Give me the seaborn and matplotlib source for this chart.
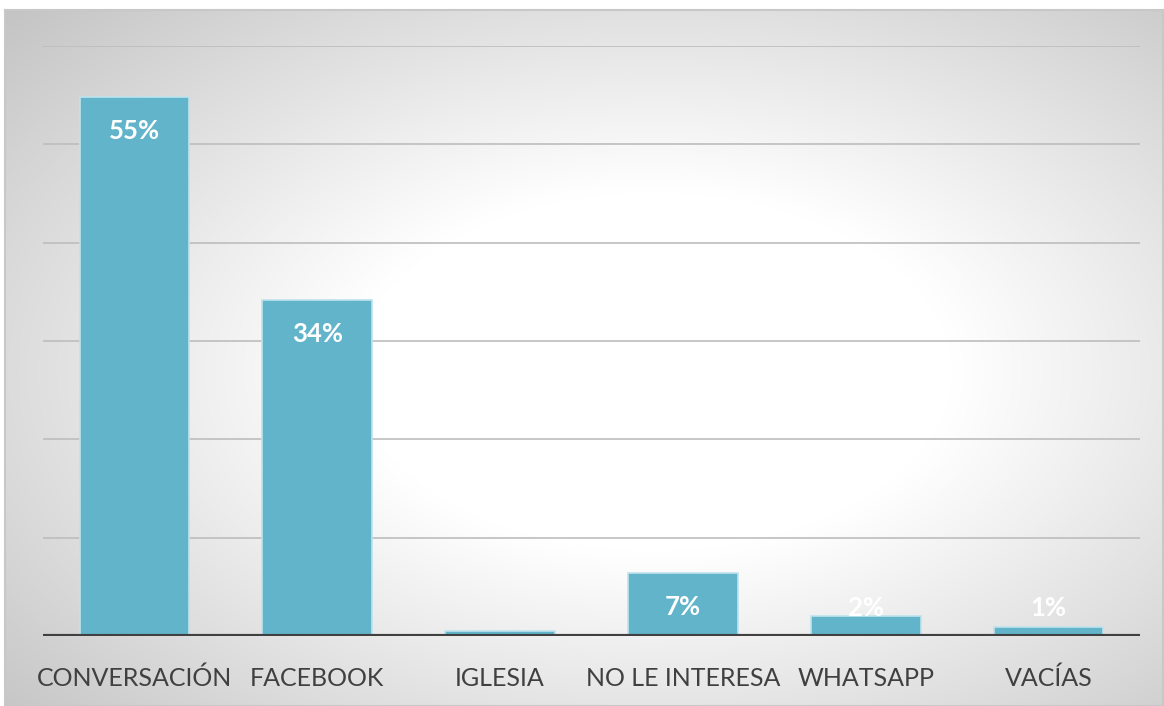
import matplotlib
matplotlib.use('Agg')
import matplotlib.pyplot as plt
import seaborn as sns
import numpy as np
import pandas as pd

sns.set_theme(style="white")
plt.rcParams['font.family'] = ['Lato', 'DejaVu Sans']

# data (percent)
categories = ['CONVERSACIÓN', 'FACEBOOK', 'IGLESIA', 'NO LE INTERESA', 'WHATSAPP', 'VACÍAS']
values = [54.8, 34.2, 0.5, 6.4, 2.0, 0.9]
labels = ['55%', '34%', '', '7%', '2%', '1%']
grid_ticks = [10, 20, 30, 40, 50, 60]

df = pd.DataFrame({'categoria': categories, 'valor': values})

W, H = 1164, 706
fig = plt.figure(figsize=(W / 100, H / 100), dpi=100)

# Excel-like radial gradient background inside a thin frame
left, bottom = 5 / W, 0.0
bw, bh = (1163 - 5) / W, (706 - 10) / H
bg = fig.add_axes([left, bottom, bw, bh], zorder=0)
xx, yy = np.meshgrid(np.linspace(0, 1, 400), np.linspace(0, 1, 300))
d = np.sqrt((xx - 0.56) ** 2 + (yy - 0.52) ** 2)
g = np.clip((d - 0.26) / (0.76 - 0.26), 0, 1)
shade = 1.0 - 0.23 * g
img = np.dstack([shade, shade, shade])
bg.imshow(img, extent=[0, 1, 0, 1], aspect='auto', origin='upper')
bg.set_xlim(0, 1)
bg.set_ylim(0, 1)
bg.set_xticks([])
bg.set_yticks([])
for s in bg.spines.values():
    s.set_color('#c8c8c8')
    s.set_linewidth(1.5)

ax = fig.add_axes([43 / W, 1 - 636 / H, (1140 - 43) / W, (636 - 46) / H], zorder=1)
ax.patch.set_alpha(0)

for t in grid_ticks:
    ax.axhline(t, color='#bdbdbd', lw=1.2, zorder=0)

sns.barplot(data=df, x='categoria', y='valor', color='#62B4CB', saturation=1,
            width=0.6, edgecolor='#bfe3ec', linewidth=1.2, ax=ax, zorder=2)

ax.axhline(0, color='#404040', lw=3, zorder=3)

for i, (v, lab) in enumerate(zip(values, labels)):
    if lab:
        ax.text(i, max(v - 3.45, 2.85), lab, ha='center', va='center',
                color='white', fontsize=18.5, fontweight='bold', zorder=4)

ax.set_xlim(-0.5, len(categories) - 0.5)
ax.set_ylim(0, 60)
ax.set_yticks([])
ax.set_xlabel('')
ax.set_ylabel('')
ax.tick_params(axis='x', length=0, pad=22, labelsize=18, labelcolor='#404040')
for s in ax.spines.values():
    s.set_visible(False)

plt.savefig('out.png', dpi=100)
plt.close()
